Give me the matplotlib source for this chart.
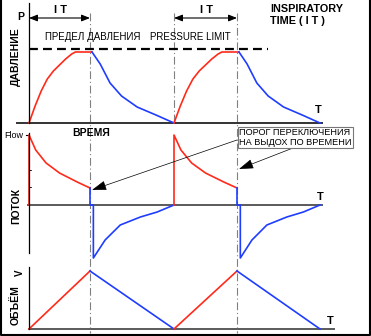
"""Pressure-controlled ventilation waveforms: pressure, flow, volume vs time."""
import matplotlib
matplotlib.use("Agg")
import matplotlib.pyplot as plt
import numpy as np

plt.rcParams["font.family"] = ["Liberation Sans", "DejaVu Sans"]

# ---- data (canvas px; heights measured above each panel's baseline) ----
breath_start = [29, 174]        # start of inspiration
insp_end = [90, 237]            # time-cycled switch to expiration
exp_end = [174, 320]            # end of expiration

# pressure: fraction of phase -> height
p_insp_t = [0.0, 0.1, 0.2, 0.3, 0.4, 0.5, 0.6, 0.7, 0.76, 1.03]
p_insp_v = [0, 17, 32, 44, 52, 58, 64, 69, 71, 71]
p_exp_t = [0.0, 0.1, 0.22, 0.36, 0.55, 0.78, 1.0]
p_exp_v = [71, 59, 40, 27, 16, 8, 0]
p_limit = 74

# flow
f_insp_t = [0.0, 0.0, 0.11, 0.28, 0.5, 0.79, 1.0]
f_insp_v = [0, 70, 55, 42, 32, 23, 17]
f_exp_t = [0.0, 0.0, 0.04, 0.04, 0.18, 0.36, 0.6, 0.8, 1.0]
f_exp_v = [17, 0, 0, -53, -35, -20, -12, -7, 0]

# volume
v_insp_t = [0.0, 1.0]
v_insp_v = [0, 58]
v_exp_t = [0.0, 1.0]
v_exp_v = [58, 0]

base_p, base_f, base_v = 123, 205, 329

RED = "#ff2a1a"
BLUE = "#1f3dff"
GREY = "#5a5a5a"

fig = plt.figure(figsize=(3.71, 3.36), dpi=100)
ax = fig.add_axes([0, 0, 1, 1])
ax.set_xlim(0, 371)
ax.set_ylim(336, 0)
ax.axis("off")


def phase(t, v, x0, x1, base, color):
    xs = x0 + np.asarray(t) * (x1 - x0)
    ys = base - np.asarray(v)
    ax.plot(xs, ys, color=color, lw=1.2, solid_joinstyle="round", zorder=3)


for s, i, e in zip(breath_start, insp_end, exp_end):
    phase(p_insp_t, p_insp_v, s, i, base_p, RED)
    phase(p_exp_t, p_exp_v, i + 2, e, base_p, BLUE)
    phase(f_insp_t, f_insp_v, s, i, base_f, RED)
    phase(f_exp_t, f_exp_v, i, e, base_f, BLUE)
    phase(v_insp_t, v_insp_v, s, i, base_v, RED)
    phase(v_exp_t, v_exp_v, i, e, base_v, BLUE)

# axes
ax.plot([29, 29], [3, base_p], color="black", lw=0.9, zorder=4)
ax.plot([17, 322], [base_p, base_p], color="#333333", lw=1.4, zorder=2)
ax.plot([29, 29], [133, 253], color="black", lw=0.9, zorder=4)
ax.plot([28, 322], [base_f, base_f], color=GREY, lw=1.4, zorder=2)
ax.plot([29, 29], [267, base_v], color="black", lw=0.9, zorder=4)
ax.plot([29, 334], [base_v, base_v], color=GREY, lw=1.4, zorder=2)
for y in (135,):
    ax.plot([26, 29], [y, y], color="black", lw=0.8)
for y in (170, 187):
    ax.plot([29, 31], [y, y], color="black", lw=0.6)

# pressure limit
ax.plot([29, 268], [base_p - p_limit] * 2, color="black", lw=1.6,
        linestyle=(0, (4, 2.3)), zorder=2)

# time-cycle markers
for x, y1 in zip([90, 174, 237], [333, base_p, 333]):
    ax.plot([x, x], [13, y1], color="#808080", lw=0.8,
            linestyle=(0, (7, 2.5, 1, 2.5)), zorder=1)

# inspiratory time arrows
for s, i in zip(breath_start, insp_end):
    ax.annotate("", xy=(i, 18), xytext=(s, 18),
                arrowprops=dict(arrowstyle="<|-|>,head_length=0.5,head_width=0.2",
                                color="black", lw=0.8, shrinkA=0, shrinkB=0))
    ax.text((s + i) / 2 + 1, 10, "I T", fontsize=8, fontweight="bold",
            ha="center", va="center")

bold = dict(fontweight="bold", color="black")
ax.text(21, 17, "P", fontsize=7.5, ha="center", va="center", **bold)
ax.text(270, 4, "INSPIRATORY\nTIME ( I T )", fontsize=7.8, ha="left", va="top",
        linespacing=1.2, **bold)
ax.text(45, 37, "ПРЕДЕЛ ДАВЛЕНИЯ", fontsize=7, ha="left", va="center")
ax.text(150, 37, "PRESSURE LIMIT", fontsize=7, ha="left", va="center")
ax.text(16, 57, "ДАВЛЕНИЕ", fontsize=7.5, rotation=90, ha="center", va="center", **bold)
ax.text(318, 110, "T", fontsize=8, ha="center", va="center", **bold)

ax.text(4, 135, "Flow", fontsize=6.5, ha="left", va="center")
ax.text(91, 133, "ВРЕМЯ", fontsize=7.5, ha="center", va="center", **bold)
ax.text(16, 206, "ПОТОК", fontsize=7.5, rotation=90, ha="center", va="center", **bold)
ax.text(320, 197, "T", fontsize=8, ha="center", va="center", **bold)

ax.text(20, 273, "V", fontsize=7, rotation=90, ha="center", va="center", **bold)
ax.text(16, 305, "ОБЪЁМ", fontsize=7.5, rotation=90, ha="center", va="center", **bold)
ax.text(330, 321, "T", fontsize=8, ha="center", va="center", **bold)

# annotation
ax.text(239, 137.5, "ПОРОГ ПЕРЕКЛЮЧЕНИЯ\nНА ВЫДОХ ПО ВРЕМЕНИ", fontsize=6.6,
        ha="left", va="center", linespacing=1.05, zorder=6,
        bbox=dict(boxstyle="square,pad=0.15", fc="white", ec="#777777", lw=0.8))
arrow = dict(arrowstyle="-|>,head_length=0.9,head_width=0.3", color="black",
             lw=0.5, mutation_scale=10, shrinkA=0, shrinkB=0)
ax.annotate("", xy=(92, 190), xytext=(237, 140), arrowprops=arrow, zorder=5)
ax.annotate("", xy=(239, 169), xytext=(293, 148), arrowprops=arrow, zorder=5)

# frame
ax.plot([1, 1, 369.5, 369.5], [0, 335, 335, 0], color="black", lw=1.5,
        clip_on=False, zorder=7)

fig.savefig("out.png", dpi=100)
